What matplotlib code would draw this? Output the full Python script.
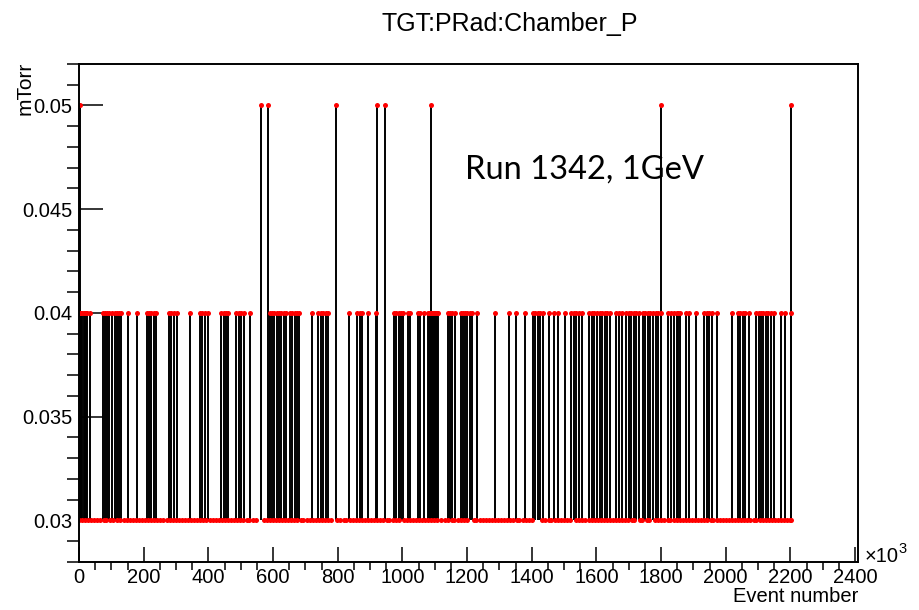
import matplotlib
matplotlib.use("Agg")
import matplotlib.pyplot as plt
from matplotlib.ticker import MultipleLocator, FormatStrFormatter
import numpy as np

plt.rcParams["font.family"] = ["Liberation Sans", "DejaVu Sans"]

# chamber pressure readings (mTorr) vs event number (x 10^3), grouped by level
low_k = [
    0, 9, 19, 28, 38, 47, 57, 66, 76, 85, 95, 104, 119, 128, 138, 147, 157, 166,
    176, 185, 195, 204, 214, 223, 233, 242, 252, 261, 271, 280, 290, 299, 309, 318,
    328, 337, 347, 356, 366, 375, 385, 394, 404, 413, 423, 432, 442, 451, 461, 470,
    480, 489, 499, 508, 518, 527, 537, 546, 571, 580, 590, 599, 609, 618, 628, 637,
    647, 656, 666, 675, 685, 694, 704, 713, 723, 732, 742, 751, 761, 770, 780, 799,
    808, 818, 827, 837, 846, 856, 865, 875, 884, 894, 903, 913, 922, 932, 941, 951,
    960, 970, 979, 989, 1004, 1013, 1023, 1032, 1042, 1051, 1061, 1070, 1080, 1089,
    1099, 1108, 1118, 1133, 1142, 1152, 1161, 1171, 1180, 1190, 1199, 1220, 1229,
    1239, 1248, 1258, 1267, 1277, 1286, 1296, 1305, 1315, 1324, 1334, 1343, 1353,
    1362, 1372, 1381, 1391, 1400, 1433, 1442, 1452, 1461, 1471, 1480, 1490, 1499,
    1509, 1518, 1538, 1547, 1557, 1566, 1576, 1585, 1595, 1604, 1614, 1623, 1633,
    1642, 1652, 1661, 1671, 1680, 1690, 1699, 1709, 1717, 1736, 1741, 1758, 1763,
    1782, 1791, 1801, 1810, 1820, 1829, 1839, 1848, 1858, 1867, 1877, 1886, 1896,
    1905, 1915, 1924, 1934, 1943, 1953, 1962, 1972, 1981, 1991, 2000, 2010, 2019,
    2029, 2038, 2048, 2057, 2067, 2076, 2086, 2095, 2105, 2114, 2124, 2133, 2143,
    2152, 2162, 2171, 2181, 2190, 2198, 2203,
]
mid_k = [
    2, 6, 10, 14, 18, 22, 26, 34, 74, 81, 88, 93, 102, 110, 118, 125, 130, 152, 180,
    210, 217, 224, 231, 237, 278, 286, 294, 304, 344, 373, 381, 389, 399, 440, 448,
    456, 462, 486, 494, 502, 510, 530, 590, 597, 604, 611, 618, 626, 634, 640, 651,
    659, 667, 675, 681, 722, 739, 747, 755, 763, 771, 834, 860, 868, 874, 894, 918,
    973, 981, 989, 996, 1002, 1017, 1025, 1048, 1056, 1066, 1079, 1082, 1084, 1086,
    1088, 1090, 1092, 1094, 1096, 1098, 1100, 1102, 1104, 1106, 1108, 1110, 1140,
    1147, 1154, 1163, 1180, 1187, 1194, 1201, 1208, 1215, 1232, 1287, 1330, 1351,
    1380, 1403, 1411, 1419, 1427, 1434, 1452, 1470, 1482, 1503, 1522, 1530, 1538,
    1547, 1554, 1578, 1586, 1594, 1602, 1610, 1618, 1626, 1634, 1643, 1661, 1669,
    1680, 1692, 1700, 1708, 1716, 1724, 1731, 1743, 1751, 1759, 1767, 1775, 1783,
    1791, 1799, 1821, 1830, 1840, 1850, 1852, 1860, 1877, 1886, 1909, 1934, 1941,
    1949, 1958, 1974, 2020, 2037, 2045, 2053, 2061, 2073, 2094, 2102, 2108, 2116,
    2124, 2132, 2140, 2148, 2171, 2184, 2201,
]
high_k = [2, 563, 586, 794, 921, 945, 1088, 1799, 2201]

LOW, MID, HIGH = 0.03, 0.04, 0.05

fig = plt.figure(figsize=(9.2, 6.1), dpi=100)
ax = fig.add_axes([79 / 920, 48 / 610, 779 / 920, 498 / 610])

# every excursion above the baseline shows up as a vertical stroke
ax.vlines(mid_k, LOW, MID, color="black", lw=1.4)
ax.vlines(high_k, LOW, HIGH, color="black", lw=1.4)

xs = np.concatenate([low_k, mid_k, high_k])
ys = np.concatenate([np.full(len(low_k), LOW), np.full(len(mid_k), MID),
                     np.full(len(high_k), HIGH)])
ax.plot(xs, ys, "o", color="#ff0000", ms=3.6, mec="none")

ax.set_xlim(0, 2409)
ax.set_ylim(0.028, 0.052)
ax.xaxis.set_major_locator(MultipleLocator(200))
ax.xaxis.set_minor_locator(MultipleLocator(50))
ax.yaxis.set_major_locator(MultipleLocator(0.005))
ax.yaxis.set_minor_locator(MultipleLocator(0.001))
ax.yaxis.set_major_formatter(FormatStrFormatter("%g"))

ax.tick_params(direction="in", top=False, right=False, labelsize=14.5, width=1.1)
ax.tick_params(axis="x", which="major", length=10.8, pad=4)
ax.tick_params(axis="x", which="minor", length=5.5, width=1.1)
ax.tick_params(axis="y", which="major", length=17, pad=5)
ax.tick_params(axis="y", which="minor", length=8.4, width=1.1)
for s in ax.spines.values():
    s.set_linewidth(1.4)

fig.text(510 / 920, 1 - 24 / 610, "TGT:PRad:Chamber_P", ha="center", va="center",
         fontsize=18)
fig.text(858 / 920, 1 - 596 / 610, "Event number", ha="right", va="center",
         fontsize=14.5)
fig.text(25 / 920, 1 - 62 / 610, "mTorr", rotation=90, ha="center", va="top",
         fontsize=15)
fig.text(865 / 920, 1 - 562 / 610, "\u00d710", ha="left", va="baseline", fontsize=14.5)
fig.text(898 / 920, 1 - 553 / 610, "3", ha="left", va="baseline", fontsize=10.5)
fig.text(465 / 920, 1 - 170 / 610, "Run 1342, 1GeV", ha="left", va="center",
         fontsize=23.5, family=["Lato", "DejaVu Sans"])

fig.savefig("out.png", dpi=100)
